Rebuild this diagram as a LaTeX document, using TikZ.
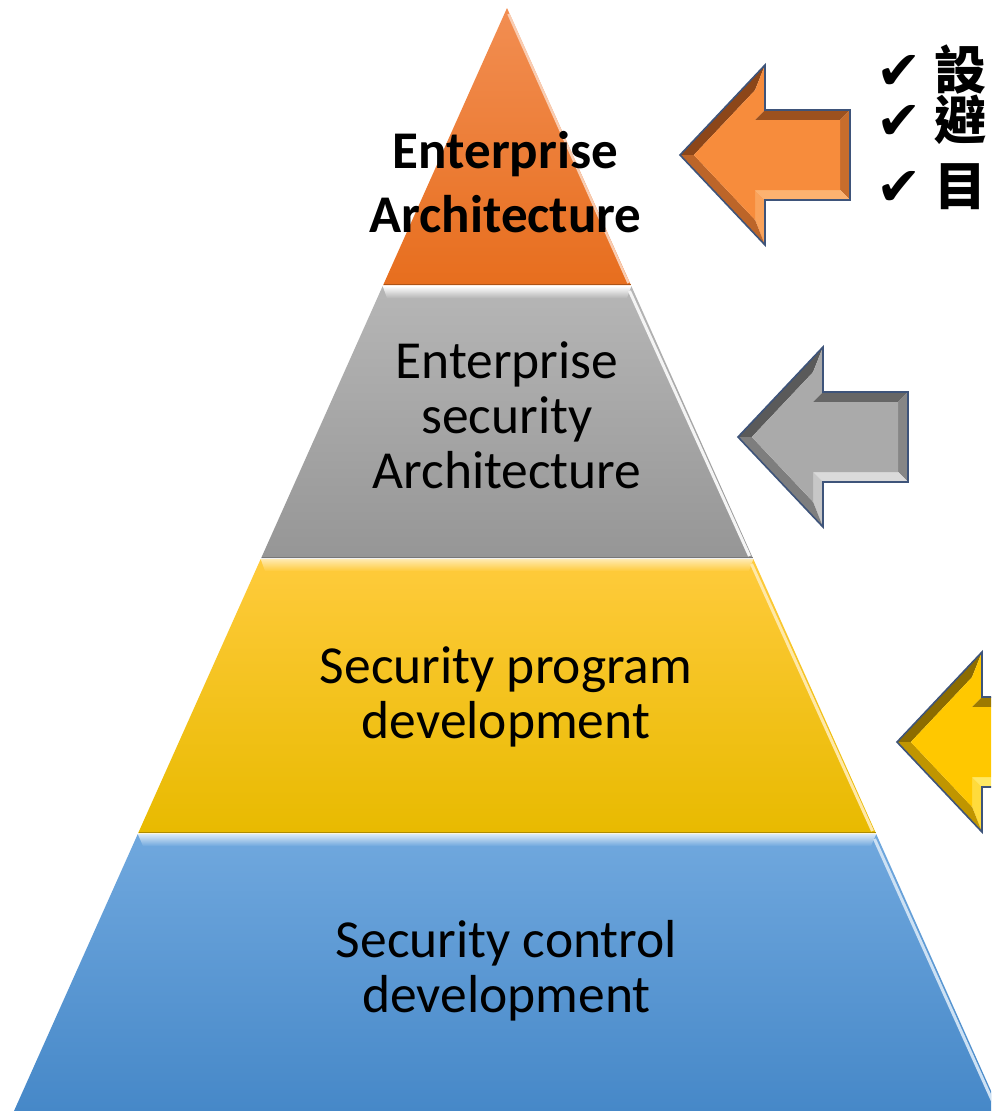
\documentclass[tikz,border=0pt]{standalone}
\usepackage{fontspec}
\setmainfont{Carlito}
\newfontfamily\cjkfont{Noto Sans CJK TC}
\newfontfamily\symfont{DejaVu Sans}
\definecolor{orTop}{RGB}{242,142,82}
\definecolor{orBot}{RGB}{231,110,30}
\definecolor{grTop}{RGB}{182,182,182}
\definecolor{grBot}{RGB}{150,150,150}
\definecolor{yeTop}{RGB}{255,203,60}
\definecolor{yeBot}{RGB}{232,186,0}
\definecolor{blTop}{RGB}{112,168,222}
\definecolor{blBot}{RGB}{70,136,200}
\definecolor{arOr}{RGB}{247,140,60}
\definecolor{arOrD}{RGB}{140,70,25}
\definecolor{arOrL}{RGB}{252,178,112}
\definecolor{arGr}{RGB}{170,170,170}
\definecolor{arGrD}{RGB}{90,90,90}
\definecolor{arGrL}{RGB}{218,218,218}
\definecolor{arYe}{RGB}{255,200,0}
\definecolor{arYeD}{RGB}{140,108,0}
\definecolor{arYeL}{RGB}{255,232,100}
\definecolor{arEdge}{RGB}{62,84,122}
\begin{document}
\begin{tikzpicture}[x=1pt,y=-1pt,
  lbl/.style={align=center, inner sep=0pt, font=\fontsize{53.5}{55}\selectfont},
  chk/.style={anchor=west, inner sep=0pt},
  pics/bevelarrow/.style n args={3}{code={
    \fill[#2] (0,0) -- (85,-90) -- (75,-64.8) -- (13.8,0) -- cycle;
    \fill[#1] (85,-90) -- (85,-45) -- (75,-35) -- (75,-64.8) -- cycle;
    \fill[#2!85!#1] (85,-45) -- (170,-45) -- (160,-35) -- (75,-35) -- cycle;
    \fill[#2!45!#1] (170,-45) -- (170,45) -- (160,35) -- (160,-35) -- cycle;
    \fill[#3] (170,45) -- (85,45) -- (75,35) -- (160,35) -- cycle;
    \fill[#3!60!#1] (85,45) -- (85,90) -- (75,64.8) -- (75,35) -- cycle;
    \fill[#2!55!#1] (85,90) -- (0,0) -- (13.8,0) -- (75,64.8) -- cycle;
    \fill[#1] (13.8,0) -- (75,-64.8) -- (75,-35) -- (160,-35) -- (160,35) -- (75,35) -- (75,64.8) -- cycle;
    \draw[arEdge, line width=1.6, line join=miter] (0,0) -- (85,-90) -- (85,-45) -- (170,-45) -- (170,45) -- (85,45) -- (85,90) -- cycle;
  }}]
\clip (0,0) rectangle (991,1111);
\fill[white] (0,0) rectangle (991,1111);

% ---- orange layer
\shade[top color=orTop, bottom color=orBot] (507,8) -- (630.8,285) -- (383.2,285) -- cycle;
\draw[white!55!orTop, line width=2.5] (508.5,14) -- (628.5,283);
\draw[orBot!75!black, line width=1.2] (383.5,284.6) -- (630.5,284.6);

% ---- gray layer
\shade[top color=grTop, bottom color=grBot] (382.7,286) -- (631.3,286) -- (752.8,558) -- (261.2,558) -- cycle;
\shade[top color=white, bottom color=grTop] (382.7,286) -- (631.3,286) -- (627,298) -- (387,298) -- cycle;
\draw[white!85!grTop, line width=3] (629.5,291) -- (749.5,556);
\draw[grBot!80!black, line width=1.2] (261.5,557.4) -- (752.5,557.4);

% ---- yellow layer
\shade[top color=yeTop, bottom color=yeBot] (260.7,559) -- (753.3,559) -- (875.8,833) -- (138.2,833) -- cycle;
\shade[top color=yeTop!40!white, bottom color=yeTop] (260.7,559) -- (753.3,559) -- (749,571) -- (265,571) -- cycle;
\draw[yeTop!45!white, line width=3] (751.5,564) -- (872.5,831);
\draw[yeBot!75!black, line width=1.2] (138.5,832.4) -- (875.5,832.4);

% ---- blue layer
\shade[top color=blTop, bottom color=blBot] (137.8,834) -- (876.2,834) -- (1000,1111) -- (14,1111) -- cycle;
\shade[top color=blTop!25!white, bottom color=blTop] (137.8,834) -- (876.2,834) -- (871,846) -- (143,846) -- cycle;
\draw[blTop!35!white, line width=3] (874.5,839) -- (997,1111);

% ---- labels
\node[lbl, font=\fontsize{53}{64}\selectfont\bfseries] (tEA) at (505.5,182) {Enterprise\\Architecture};
\node[lbl] (tESA) at (507,415) {Enterprise\\security\\Architecture};
\node[lbl] (tSPD) at (506,696.5) {Security program\\development};
\node[lbl] (tSCD) at (506.5,971) {Security control\\development};

% ---- arrows
\pic (aOr) at (680,155) {bevelarrow={arOr}{arOrD}{arOrL}};
\pic (aGr) at (738,437) {bevelarrow={arGr}{arGrD}{arGrL}};
\pic (aYe) at (897,742) {bevelarrow={arYe}{arYeD}{arYeL}};

% ---- check list
\node[chk] (c1) at (876,70) {\makebox[58pt][l]{\symfont\fontsize{54}{54}\selectfont ✔}\cjkfont\bfseries\fontsize{52}{52}\selectfont 設};
\node[chk] (c2) at (876,120) {\makebox[58pt][l]{\symfont\fontsize{54}{54}\selectfont ✔}\cjkfont\bfseries\fontsize{52}{52}\selectfont 避};
\node[chk] (c3) at (876,187) {\makebox[58pt][l]{\symfont\fontsize{54}{54}\selectfont ✔}\cjkfont\bfseries\fontsize{52}{52}\selectfont 目};
\end{tikzpicture}
\end{document}
